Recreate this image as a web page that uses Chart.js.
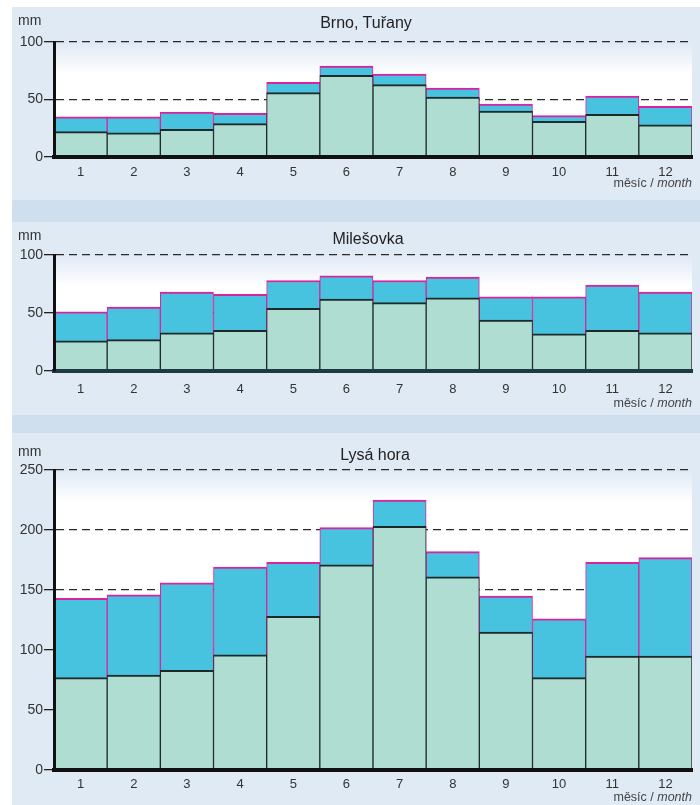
<!DOCTYPE html>
<html>
<head>
<meta charset="utf-8">
<script src="https://cdn.jsdelivr.net/npm/chart.js@4.4.0/dist/chart.umd.min.js"></script>
<style>
body { margin: 0; background: #fff; width: 700px; height: 805px; position: relative; overflow: hidden; font-family: "Liberation Sans", Arial, sans-serif; }
.panel { position: absolute; left: 12px; width: 688px; background: #dfeaf5; }
.band { position: absolute; left: 12px; width: 688px; background: #cfdfee; }
.panel canvas { position: absolute; left: 0; top: 0; }
.title { position: absolute; font-size: 16px; line-height: 16px; color: #222; transform: translateX(-50%); white-space: nowrap; }
.unit { position: absolute; left: 6px; font-size: 14px; line-height: 14px; color: #333; }
.xname { position: absolute; right: 8px; font-size: 12.5px; line-height: 13px; color: #444; white-space: nowrap; }
</style>
</head>
<body>
<div class="panel" style="top:7px;height:193px">
  <canvas id="brno" width="688" height="193"></canvas>
  <div class="unit" style="top:6px">mm</div>
  <div class="title" style="left:354px;top:8px">Brno, Tuřany</div>
  <div class="xname" style="top:170px">měsíc / <i>month</i></div>
</div>
<div class="band" style="top:200px;height:22px"></div>
<div class="panel" style="top:222px;height:193px">
  <canvas id="milesovka" width="688" height="193"></canvas>
  <div class="unit" style="top:6px">mm</div>
  <div class="title" style="left:356px;top:9px">Milešovka</div>
  <div class="xname" style="top:175px">měsíc / <i>month</i></div>
</div>
<div class="band" style="top:415px;height:18px"></div>
<div class="panel" style="top:433px;height:372px">
  <canvas id="lysa" width="688" height="372"></canvas>
  <div class="unit" style="top:11px">mm</div>
  <div class="title" style="left:363px;top:14px">Lysá hora</div>
  <div class="xname" style="top:358px">měsíc / <i>month</i></div>
</div>

<script>
// months on the x axis
var months = ['1', '2', '3', '4', '5', '6', '7', '8', '9', '10', '11', '12'];

// Brno, Tuřany (mm)
var brnoTotal = [35, 35, 39, 38, 65, 79, 72, 60, 46, 36, 53, 44];
var brnoLower = [22, 21, 24, 29, 56, 71, 63, 52, 40, 31, 37, 28];

// Milešovka (mm)
var mileTotal = [51, 55, 68, 66, 78, 82, 78, 81, 64, 64, 74, 68];
var mileLower = [26, 27, 33, 35, 54, 62, 59, 63, 44, 32, 35, 33];

// Lysá hora (mm)
var lysaTotal = [143, 146, 156, 169, 173, 202, 225, 182, 145, 126, 173, 177];
var lysaLower = [77, 79, 83, 96, 128, 171, 203, 161, 115, 77, 95, 95];

// white plot area with a light blue fade at the top
var plotBg = {
    id: 'plotBg',
    beforeDraw: function(chart) {
        var a = chart.chartArea, c = chart.ctx;
        var g = c.createLinearGradient(0, a.top, 0, a.top + 32);
        g.addColorStop(0, '#dfe9f5');
        g.addColorStop(1, '#ffffff');
        c.save();
        c.fillStyle = g;
        c.fillRect(a.left, a.top, a.right - a.left, a.bottom - a.top);
        c.restore();
    }
};

function makeChart(id, lower, total, yMax, topPad, xHeight, labelPad, axisColor) {
    var ctx = document.getElementById(id).getContext('2d');
    return new Chart(ctx, {
        type: 'bar',
        data: {
            labels: months,
            datasets: [{
                data: lower,
                backgroundColor: '#b0ddd2',
                borderColor: '#1d2a2a',
                borderWidth: {top: 2, left: 1, right: 1, bottom: 0},
                borderSkipped: false,
                categoryPercentage: 1,
                barPercentage: 1
            }, {
                data: total,
                backgroundColor: '#48c3df',
                borderColor: '#d8259f',
                borderWidth: {top: 2, left: 1, right: 1, bottom: 0},
                borderSkipped: false,
                categoryPercentage: 1,
                barPercentage: 1
            }]
        },
        options: {
            responsive: false,
            animation: false,
            events: [],
            layout: { padding: {top: topPad, left: 0, right: 8, bottom: 0} },
            plugins: { legend: { display: false }, tooltip: { enabled: false } },
            scales: {
                x: {
                    stacked: true,
                    afterFit: function(s) { s.height = xHeight; },
                    grid: { display: false, drawTicks: false },
                    border: { color: axisColor, width: 4, z: 1 },
                    ticks: { color: '#333', padding: labelPad, font: { family: 'Liberation Sans', size: 13 } }
                },
                y: {
                    stacked: false,
                    min: 0,
                    max: yMax,
                    afterFit: function(s) { s.width = 42; },
                    grid: { color: '#2a2a2a', lineWidth: 1.3, tickLength: 10, tickColor: '#222', tickWidth: 1.3 },
                    border: { color: '#111', width: 3, dash: [8, 5], z: 1 },
                    ticks: { stepSize: 50, color: '#333', padding: 1, font: { family: 'Liberation Sans', size: 14 } }
                }
            }
        },
        plugins: [plotBg]
    });
}

var brnoChart = makeChart('brno', brnoLower, brnoTotal, 100, 35, 43, 8, '#111');
var mileChart = makeChart('milesovka', mileLower, mileTotal, 100, 33, 44, 11, '#1f3a44');
var lysaChart = makeChart('lysa', lysaLower, lysaTotal, 250, 37, 35, 7, '#111');
</script>
</body>
</html>
